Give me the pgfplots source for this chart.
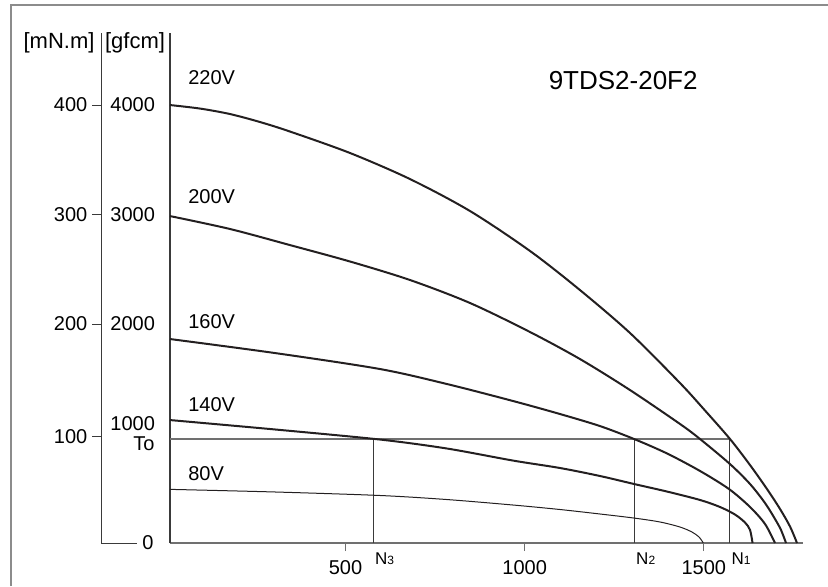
\documentclass[border=0pt]{standalone}
\usepackage{pgfplots}
\pgfplotsset{compat=1.18}
\usepackage{fontspec}
\setmainfont{Liberation Sans}
\definecolor{curve}{HTML}{231F20}
\definecolor{framegray}{HTML}{8C8C8C}
\definecolor{axgray}{HTML}{707070}
\definecolor{axdark}{HTML}{3A3A3A}
\begin{document}
\begin{tikzpicture}
\useasboundingbox (0,0) rectangle (414pt,293pt);
\draw[framegray, line width=1pt] (5.5pt,0) -- (5.5pt,290.5pt) -- (414pt,290.5pt);
% mN.m axis
\begin{axis}[at={(50.5pt,21.5pt)}, anchor=south west, scale only axis,
  width=18pt, height=255pt, xmin=0, xmax=1, ymin=0, ymax=465.8,
  axis x line=bottom, axis y line=left,
  axis line style={-, axdark, line width=0.5pt},
  xtick=\empty, ytick={97,200,300,400}, yticklabels={100,200,300,400},
  tick align=outside, major tick length=4.5pt,
  tick style={axdark, line width=0.5pt},
  /pgf/number format/assume math mode=true,
  yticklabel style={font=\fontsize{10}{12}\selectfont, xshift=1.2pt},
  clip=false]
\node[anchor=west, inner sep=0, font=\fontsize{10}{12}\selectfont] at (axis cs:1,0) [xshift=2.5pt] {0};
\end{axis}
% main axis
\begin{axis}[at={(85pt,21.5pt)}, anchor=south west, scale only axis,
  width=316.5pt, height=255pt, xmin=10, xmax=1777, ymin=0, ymax=4658,
  axis x line=bottom, axis y line=left,
  axis line style={-},
  x axis line style={axgray, line width=1pt},
  y axis line style={axdark, line width=0.6pt},
  xtick={500,1000,1500}, ytick={2000,3000,4000},
  extra y ticks={1000},
  extra y tick style={yticklabel style={yshift=4.75pt}},
  tick align=outside, major tick length=4pt,
  x tick style={axgray, line width=0.7pt},
  y tick style={draw=none},
  /pgf/number format/assume math mode=true,
  /pgf/number format/1000 sep={},
  ticklabel style={font=\fontsize{10}{12}\selectfont},
  yticklabel style={xshift=0pt},
  xticklabel style={yshift=-1pt},
  clip=false]
% To line and N lines
\addplot[axgray, line width=0.8pt] coordinates {(10,950) (1573,950)};
\addplot[axdark, line width=0.55pt] coordinates {(578,0) (578,950)};
\addplot[axdark, line width=0.55pt] coordinates {(1307,0) (1307,950)};
\addplot[axdark, line width=0.55pt] coordinates {(1573,0) (1573,950)};
% 220V
\addplot[curve, line width=1pt, smooth] coordinates {(10,4000) (93.7,3968) (177.5,3918) (261.2,3845) (345,3758) (512.5,3562) (680,3324) (847.5,3032) (1015,2667) (1154.5,2310) (1294.1,1918) (1433.7,1461) (1503.5,1210) (1573.2,950) (1629.1,712) (1676.5,493) (1712.8,311) (1740.7,151) (1760.2,0)};
% 200V
\addplot[curve, line width=1pt, smooth] coordinates {(10,2986) (177.5,2868) (345,2721) (512.5,2571) (680,2402) (847.5,2192) (1015,1927) (1154.5,1680) (1294.1,1397) (1433.7,1087) (1489.5,950) (1573.2,721) (1629.1,539) (1671,365) (1698.9,219) (1715.6,119) (1729.6,0)};
% 160V
\addplot[curve, line width=1pt, smooth] coordinates {(10,1863) (303.1,1735) (596.2,1589) (783.2,1452) (967.5,1297) (1098.7,1178) (1210.3,1068) (1305.3,950) (1397.4,818) (1489.5,658) (1570.4,493) (1629.1,329) (1670.9,174) (1698.8,0)};
% 140V
\addplot[curve, line width=1pt, smooth] coordinates {(10,1123) (303.1,1037) (596.2,945) (783.2,863) (967.5,753) (1098.7,685) (1210.3,612) (1305.3,539) (1397.4,470) (1489.5,393) (1545.3,329) (1587.2,260) (1615.1,187) (1629.1,119) (1636.1,0)};
% 80V
\addplot[curve, line width=0.5pt, smooth] coordinates {(10,490) (303.1,466) (596.2,434) (783.2,397) (967.5,347) (1098.7,306) (1210.3,265) (1305.3,228) (1377.8,192) (1433.7,146) (1467.2,100) (1486.7,55) (1498.7,0)};
% labels
\node[anchor=west, inner sep=0, font=\fontsize{10}{12}\selectfont] at (axis cs:60,4247) {220V};
\node[anchor=west, inner sep=0, font=\fontsize{10}{12}\selectfont] at (axis cs:60,3160) {200V};
\node[anchor=west, inner sep=0, font=\fontsize{10}{12}\selectfont] at (axis cs:60,2018) {160V};
\node[anchor=west, inner sep=0, font=\fontsize{10}{12}\selectfont] at (axis cs:60,1260) {140V};
\node[anchor=west, inner sep=0, font=\fontsize{10}{12}\selectfont] at (axis cs:60,630) {80V};
\node[font=\fontsize{13}{15}\selectfont] at (axis cs:1275,4228) {9TDS2-20F2};
\node[anchor=east, inner sep=0, font=\fontsize{10}{12}\selectfont] at (axis cs:10,950) [xshift=-7.5pt, yshift=-2.2pt] {To};
\node[anchor=north west, inner sep=0, font=\fontsize{8.5}{10}\selectfont] at (axis cs:578,0) [xshift=0.6pt, yshift=-4.5pt] {N{\fontsize{6}{6}\selectfont 3}};
\node[anchor=north west, inner sep=0, font=\fontsize{8.5}{10}\selectfont] at (axis cs:1307,0) [xshift=0.6pt, yshift=-4.5pt] {N{\fontsize{6}{6}\selectfont 2}};
\node[anchor=north west, inner sep=0, font=\fontsize{8.5}{10}\selectfont] at (axis cs:1573,0) [xshift=0.6pt, yshift=-4.5pt] {N{\fontsize{6}{6}\selectfont 1}};
\end{axis}
\node[font=\fontsize{11}{12}\selectfont] at (29.5pt,271.5pt) {[mN.m]};
\node[font=\fontsize{11}{12}\selectfont] at (67.5pt,271.5pt) {[gfcm]};
\end{tikzpicture}
\end{document}
